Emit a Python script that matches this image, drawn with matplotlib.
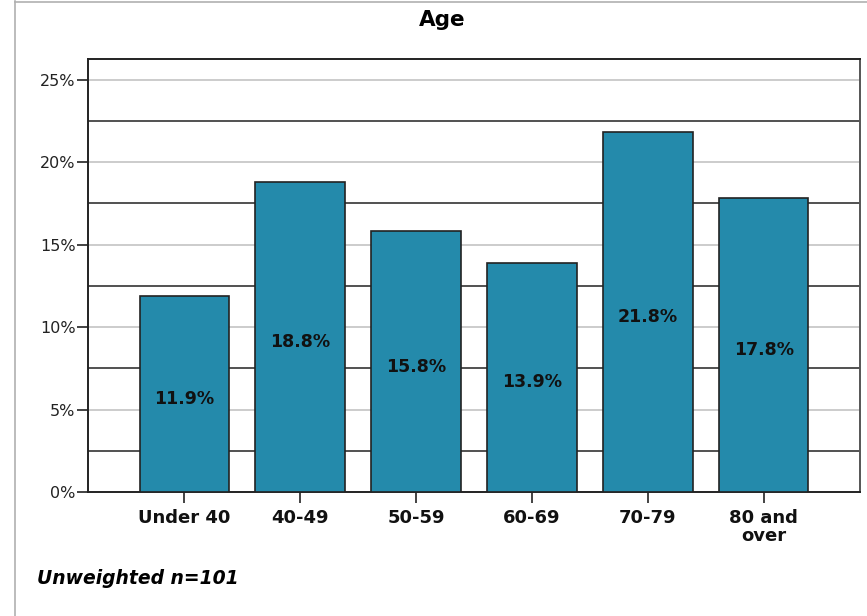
import matplotlib
matplotlib.use("Agg")
import matplotlib.pyplot as plt
from matplotlib.lines import Line2D
import numpy as np

# age groups and share of respondents (%)
categories = ["Under 40", "40-49", "50-59", "60-69", "70-79", "80 and\nover"]
percents = [11.9, 18.8, 15.8, 13.9, 21.8, 17.8]
ytick_vals = [0, 5, 10, 15, 20, 25]
n_unweighted = 101

plt.rcParams['font.family'] = ['DejaVu Sans']

fig = plt.figure(figsize=(8.67, 6.16), dpi=100)
ax = fig.add_axes([88/867, 1 - 492/616, 772/867, 433/616])

x = np.arange(len(categories))
ax.bar(x, percents, width=0.77, color="#248AAB", edgecolor="#222222",
       linewidth=1.2, zorder=3)

# value labels sit a touch below the middle of each bar
for xi, p in zip(x, percents):
    ax.text(xi, p / 2 - 0.3, "%.1f%%" % p, ha="center", va="center",
            fontsize=12.5, fontweight="bold", color="#111111", zorder=4)

ax.set_xlim(-0.83, len(categories) - 1 + 0.83)
ax.set_ylim(0, 26.25)

# dark lines half way between the labelled ticks, light ones on the ticks
for yv in np.arange(2.5, 26, 5):
    ax.axhline(yv, color="#333333", linewidth=1.2, zorder=1)
for yv in ytick_vals[1:]:
    ax.axhline(yv, color="#c4c4c4", linewidth=1.2, zorder=1)

ax.set_yticks(ytick_vals)
ax.set_yticklabels(["%d%%" % v for v in ytick_vals], fontsize=11.5, color="#222222")
ax.set_xticks(x)
ax.set_xticklabels(categories, fontsize=13, fontweight="bold",
                   linespacing=1.05, color="#111111")
ax.tick_params(axis="y", direction="out", length=8, width=1.2, color="#222222", pad=1)
ax.tick_params(axis="x", direction="out", length=8, width=1.2, color="#222222", pad=4)

for side in ["left", "bottom", "top"]:
    ax.spines[side].set_color("#222222")
    ax.spines[side].set_linewidth(1.4)
ax.spines["right"].set_color("#555555")
ax.spines["right"].set_linewidth(1.4)

fig.text(442/867, 1 - 20/616, "Age", ha="center", va="center",
         fontsize=15.5, fontweight="bold")
fig.text(37/867, 1 - 578/616, "Unweighted n=%d" % n_unweighted, ha="left",
         va="center", fontsize=13.5, fontweight="bold", fontstyle="italic")

# frame around the chart area
fig.add_artist(Line2D([15/867, 15/867], [0, 1 - 1/616], transform=fig.transFigure,
                      color="#b0b0b0", linewidth=1.2))
fig.add_artist(Line2D([15/867, 1], [1 - 1.5/616, 1 - 1.5/616], transform=fig.transFigure,
                      color="#b0b0b0", linewidth=1.2))

fig.savefig("out.png", dpi=100)
